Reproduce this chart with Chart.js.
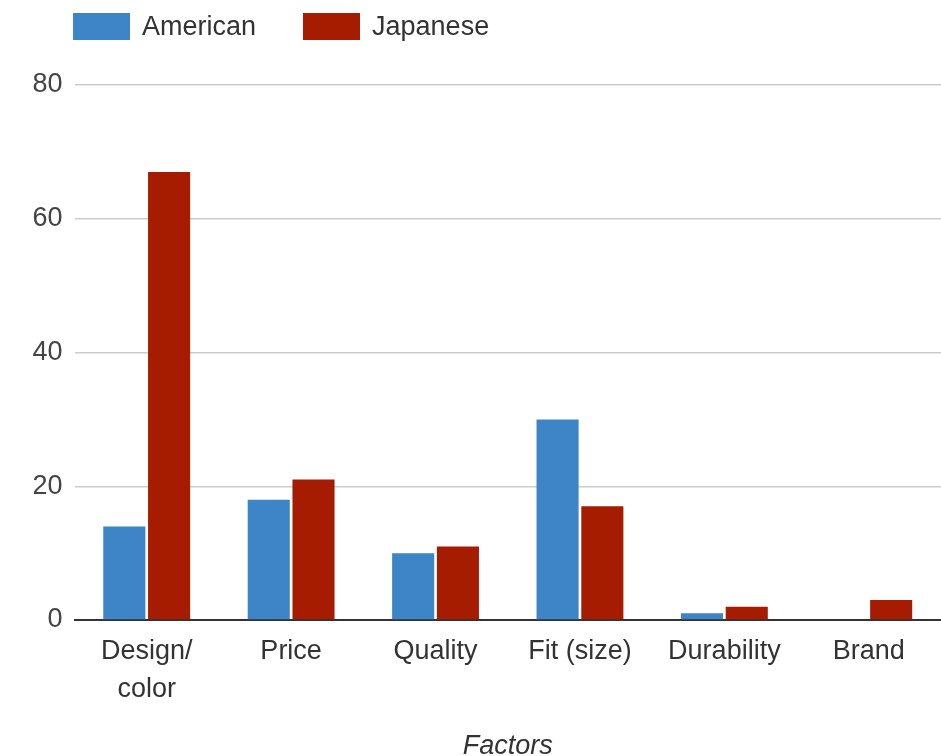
<!DOCTYPE html>
<html>
<head>
<meta charset="utf-8">
<title>Factors chart</title>
<script src="https://cdn.jsdelivr.net/npm/chart.js@4"></script>
<style>
    html, body {
        margin: 0;
        padding: 0;
        background: #ffffff;
    }
    #chartWrap {
        position: relative;
        width: 941px;
        height: 756px;
    }
    #legend {
        position: absolute;
        top: 11px;
        left: 73px;
        display: flex;
        align-items: center;
        font-family: "Liberation Sans", Arial, sans-serif;
        font-size: 27px;
        color: #333333;
    }
    .legend-item {
        display: flex;
        align-items: center;
        margin-right: 47px;
    }
    .legend-box {
        width: 57px;
        height: 27px;
        margin-right: 12px;
    }
</style>
</head>
<body>
<div id="chartWrap">
    <canvas id="factorChart"></canvas>
    <div id="legend"></div>
</div>
<script>
// Chart data
const categories = [['Design/', 'color'], 'Price', 'Quality', 'Fit (size)', 'Durability', 'Brand'];
const seriesNames = ['American', 'Japanese'];
const americanValues = [14, 18, 10, 30, 1, 0];
const japaneseValues = [67, 21, 11, 17, 2, 3];
const yTicks = [0, 20, 40, 60, 80];
const xTitle = 'Factors';

const seriesColors = ['#3d85c6', '#a61c00'];
const fontFamily = '"Liberation Sans", Arial, sans-serif';

// Build the legend above the plot
function buildLegend() {
    const legend = document.getElementById('legend');
    legend.innerHTML = '';
    seriesNames.forEach((name, i) => {
        const item = document.createElement('div');
        item.className = 'legend-item';
        item.innerHTML = `
            <div class="legend-box" style="background:${seriesColors[i]}"></div>
            <span>${name}</span>
        `;
        legend.appendChild(item);
    });
}

const ctx = document.getElementById('factorChart').getContext('2d');

const factorChart = new Chart(ctx, {
    type: 'bar',
    data: {
        labels: categories,
        datasets: [
            {
                label: seriesNames[0],
                data: americanValues,
                backgroundColor: seriesColors[0]
            },
            {
                label: seriesNames[1],
                data: japaneseValues,
                backgroundColor: seriesColors[1]
            }
        ]
    },
    options: {
        responsive: true,
        maintainAspectRatio: false,
        animation: false,
        categoryPercentage: 0.62,
        barPercentage: 0.94,
        layout: {
            padding: { top: 85, left: 0, right: 0, bottom: 0 }
        },
        plugins: {
            legend: { display: false },
            tooltip: { enabled: false }
        },
        scales: {
            x: {
                grid: { display: false, drawTicks: false },
                border: { display: true, color: '#333333', width: 2 },
                ticks: {
                    color: '#333333',
                    padding: 13,
                    maxRotation: 0,
                    autoSkip: false,
                    font: { family: fontFamily, size: 27, lineHeight: 1.4 }
                },
                title: {
                    display: true,
                    text: xTitle,
                    color: '#333333',
                    padding: { top: 0, bottom: -7 },
                    font: { family: fontFamily, size: 27, style: 'italic' }
                },
                afterFit: function(scale) {
                    scale.height = 136;
                }
            },
            y: {
                min: yTicks[0],
                max: yTicks[yTicks.length - 1],
                afterBuildTicks: function(scale) {
                    scale.ticks = yTicks.map(v => ({ value: v }));
                },
                grid: {
                    drawTicks: false,
                    color: function(context) {
                        return context.tick && context.tick.value === 0 ? 'rgba(0,0,0,0)' : '#cccccc';
                    },
                    lineWidth: 1.5
                },
                border: { display: false },
                ticks: {
                    color: '#444444',
                    padding: 12,
                    font: { family: fontFamily, size: 27 }
                },
                afterFit: function(scale) {
                    scale.width = 74.5;
                }
            }
        }
    }
});

buildLegend();
</script>
</body>
</html>
